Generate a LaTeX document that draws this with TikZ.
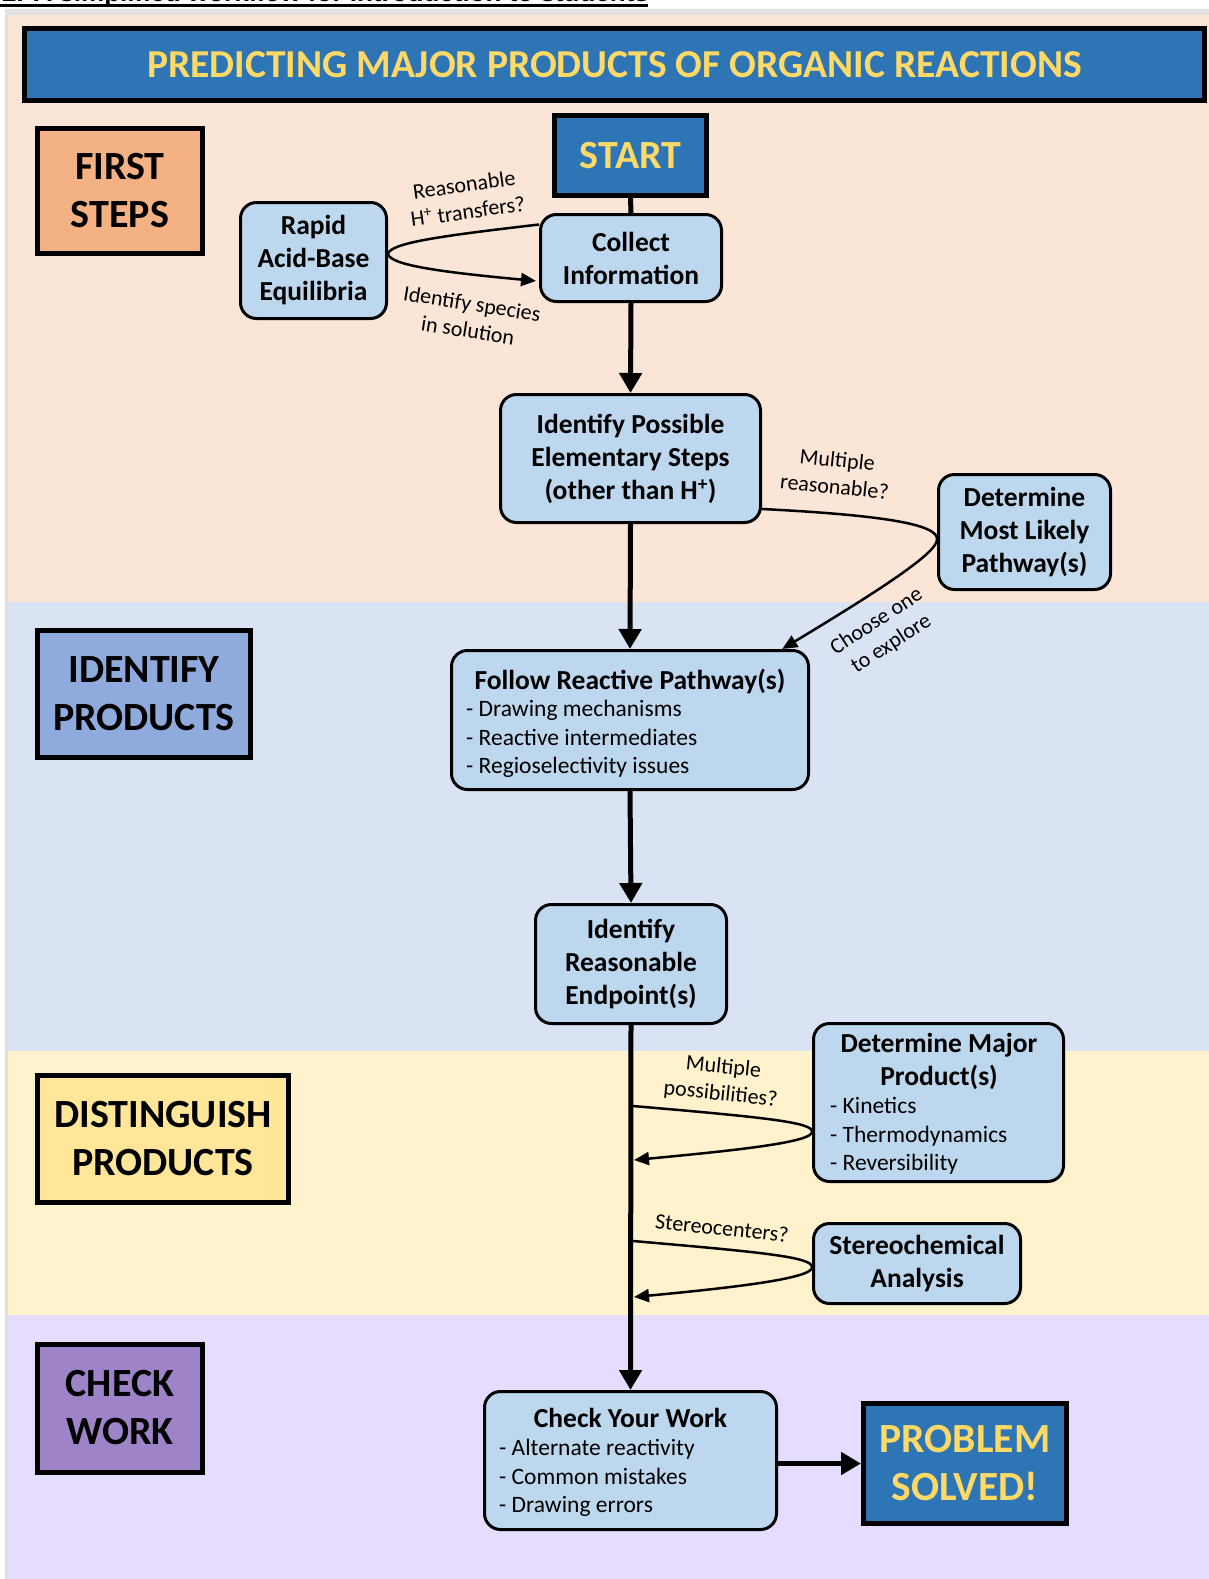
\documentclass[tikz,border=0pt]{standalone}
\usepackage{fontspec}
\setmainfont{Carlito}
\newfontfamily\headfont{Liberation Sans}
\usetikzlibrary{arrows.meta}
\definecolor{peachband}{HTML}{FBE5D6}
\definecolor{blueband}{HTML}{DAE3F3}
\definecolor{yellowband}{HTML}{FFF2CC}
\definecolor{lilacband}{HTML}{E6DCFF}
\definecolor{framegray}{HTML}{E0E0E0}
\definecolor{darkblue}{HTML}{2E75B6}
\definecolor{goldtext}{HTML}{FFD966}
\definecolor{stepfill}{HTML}{BDD7EE}
\definecolor{orangebox}{HTML}{F4B183}
\definecolor{bluebox}{HTML}{8FAADC}
\definecolor{yellowbox}{HTML}{FFE699}
\definecolor{purplebox}{HTML}{9E83C9}
\begin{document}
\begin{tikzpicture}[x=1pt,y=-1pt,
  secbox/.style={draw=black, line width=5pt, inner sep=0pt, align=center,
    font=\bfseries\fontsize{40}{48}\selectfont},
  goalbox/.style={draw=black, fill=darkblue, line width=5pt, inner sep=0pt,
    align=center, text=goldtext, font=\bfseries\fontsize{40}{48}\selectfont},
  stepbox/.style={draw=black, fill=stepfill, line width=3pt, rounded corners=16pt,
    inner sep=0pt, align=center, font=\bfseries\fontsize{27.5}{33}\selectfont},
  steptitle/.style={inner sep=0pt, align=center, font=\bfseries\fontsize{27.5}{33}\selectfont},
  bullets/.style={inner sep=0pt, align=left, font=\fontsize{23.5}{28.5}\selectfont},
  trunk/.style={line width=5pt, -{Triangle[width=22pt,length=20pt]}},
  side/.style={line width=2.5pt, -{Triangle[width=13pt,length=15pt]}},
  lbl/.style={inner sep=0pt, align=center, font=\fontsize{22}{27}\selectfont}]
\useasboundingbox (0,0) rectangle (1209,1579);

% page and section bands
\fill[white] (0,0) rectangle (1209,1579);
\fill[framegray] (5,9) rectangle (1209,1579);
\fill[peachband] (8,15) rectangle (1209,602);
\fill[blueband] (8,602) rectangle (1209,1051);
\fill[yellowband] (8,1051) rectangle (1209,1315);
\fill[lilacband] (8,1315) rectangle (1209,1579);

% heading above the chart
\node[anchor=base west, inner sep=0pt, font=\headfont\bfseries\fontsize{26}{30}\selectfont]
  (heading) at (2,1.5) {2. A simplified workflow for introduction to students};
\fill[black] (0,4) rectangle (648,7.5);

% title banner
\node[goalbox, minimum width=1180, minimum height=72,
  font=\bfseries\fontsize{39.6}{48}\selectfont] (title) at (614.5,64.5)
  {PREDICTING MAJOR PRODUCTS OF ORGANIC REACTIONS};

% section labels
\node[secbox, fill=orangebox, minimum width=165, minimum height=125] (first) at (120,191) {FIRST\\STEPS};
\node[secbox, fill=bluebox, minimum width=213, minimum height=127] (identify) at (144,694) {IDENTIFY\\PRODUCTS};
\node[secbox, fill=yellowbox, minimum width=251, minimum height=127] (distinguish) at (163,1139) {DISTINGUISH\\PRODUCTS};
\node[secbox, fill=purplebox, minimum width=165, minimum height=128] (checkwork) at (120,1408) {CHECK\\WORK};

% start and finish
\node[goalbox, minimum width=152, minimum height=80] (start) at (630.5,155.5) {START};
\node[goalbox, minimum width=203, minimum height=120, font=\bfseries\fontsize{41.5}{48}\selectfont]
  (solved) at (965,1463.5) {PROBLEM\\SOLVED!};

% workflow steps
\node[stepbox, minimum width=181, minimum height=87] (collect) at (631,258) {Collect\\Information};
\node[stepbox, minimum width=146, minimum height=116] (rapid) at (313.5,260.5) {Rapid\\Acid-Base\\Equilibria};
\node[stepbox, minimum width=260, minimum height=128] (possible) at (630.5,458.5)
  {Identify Possible\\Elementary Steps\\(other than H\textsuperscript{+})};
\node[stepbox, minimum width=172, minimum height=115] (likely) at (1024.5,532)
  {Determine\\Most Likely\\Pathway(s)};
\node[stepbox, minimum width=357, minimum height=139] (follow) at (630,720) {};
\node[steptitle] (followtitle) at (630,681) {Follow Reactive Pathway(s)};
\node[bullets, anchor=west] (followlist) at (466,739)
  {- Drawing mechanisms\\- Reactive intermediates\\- Regioselectivity issues};
\node[stepbox, minimum width=191, minimum height=119] (endpoint) at (631,964)
  {Identify\\Reasonable\\Endpoint(s)};
\node[stepbox, minimum width=250, minimum height=158] (major) at (938.5,1102.5) {};
\node[steptitle] (majortitle) at (939,1061) {Determine Major\\Product(s)};
\node[bullets, anchor=west] (majorlist) at (830,1136)
  {- Kinetics\\- Thermodynamics\\- Reversibility};
\node[stepbox, minimum width=207, minimum height=80] (stereo) at (917,1263.5)
  {Stereochemical\\Analysis};
\node[stepbox, minimum width=292, minimum height=138] (check) at (630.5,1460.5) {};
\node[steptitle] (checktitle) at (630.5,1418) {Check Your Work};
\node[bullets, anchor=west] (checklist) at (499,1478)
  {- Alternate reactivity\\- Common mistakes\\- Drawing errors};

% main line of the workflow
\draw[line width=5pt] (start.south) -- (collect.north);
\draw[trunk] (collect.south) -- (possible.north);
\draw[trunk] (possible.south) -- (follow.north);
\draw[trunk] (follow.south) -- (endpoint.north);
\draw[trunk] (endpoint.south) -- (check.north);
\draw[trunk] (check.east |- solved.west) -- (solved.west);

% side loops
\coordinate (loopAout) at (633,1106);
\coordinate (loopAin) at (634,1160);
\coordinate (loopBout) at (633,1241);
\coordinate (loopBin) at (634,1297);

\draw[side] (collect.160) .. controls (440,236) and (390,243) .. (rapid.5)
  .. controls (390,265) and (440,272) .. ([xshift=-3pt]collect.194);
\draw[side] (possible.339) .. controls (880,515) and (939,524) .. (likely.185)
  .. controls (937,553) and (880,590) .. (follow.25);
\draw[side] (loopAout) .. controls (760,1117) and (813,1122) .. (major.193)
  .. controls (813,1142) and (740,1150) .. (loopAin);
\draw[side] (loopBout) .. controls (760,1252) and (813,1257) .. (stereo.182)
  .. controls (813,1278) and (740,1287) .. (loopBin);

% loop labels
\node[lbl, rotate=8] (labH) at (466,198) {Reasonable\\H\textsuperscript{+} transfers?};
\node[lbl, rotate=-9] (labSpecies) at (470,317) {Identify species\\in solution};
\node[lbl, rotate=-6] (labMultiple) at (836,473) {Multiple\\reasonable?};
\node[lbl, rotate=33] (labChoose) at (884,633) {Choose one\\to explore};
\node[lbl, rotate=-6] (labPossib) at (722,1081) {Multiple\\possibilities?};
\node[lbl, rotate=-6] (labStereo) at (722,1228) {Stereocenters?};
\end{tikzpicture}
\end{document}
